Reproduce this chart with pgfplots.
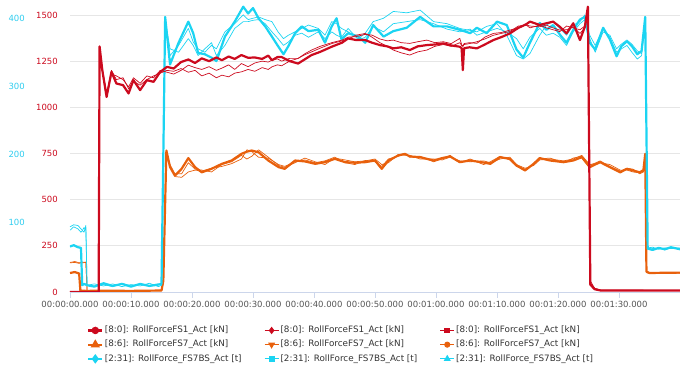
\documentclass[border=0pt]{standalone}
\usepackage{pgfplots}
\pgfplotsset{compat=1.18}
\usepackage{pgfplotstable}
\usepackage{fontspec}
\setmainfont{DejaVu Sans}
\definecolor{cRed}{HTML}{CC0A1E}
\definecolor{cOrg}{HTML}{E8600C}
\definecolor{cCyan}{HTML}{1BD4F2}
\definecolor{cCyanL}{HTML}{30CDEF}
\definecolor{cGrid}{HTML}{E6E6E6}
\definecolor{cAxis}{HTML}{CCD6EB}
\definecolor{cTxt}{HTML}{555555}

\pgfplotstableread{
t r1 r2 r3
0 0 0 0
4.7 0 0 0
4.85 1330 1320 1310
5.3 1200 1210 1200
6.0 1056 1080 1070
6.8 1192 1180 1200
7.6 1129 1170 1150
8.7 1120 1150 1160
9.6 1075 1110 1100
10.4 1147 1160 1140
11.5 1093 1130 1120
12.6 1147 1170 1150
13.7 1138 1160 1170
14.8 1192 1200 1185
15.9 1219 1190 1200
17.0 1210 1180 1195
18.2 1245 1200 1210
19.4 1259 1228 1190
20.5 1240 1215 1200
21.6 1265 1205 1170
22.8 1250 1220 1185
24.0 1270 1200 1160
24.9 1255 1212 1174
26.0 1275 1230 1165
27.0 1262 1205 1185
28.1 1283 1237 1192
29.2 1268 1220 1205
30.3 1270 1240 1195
31.5 1262 1250 1215
32.5 1280 1245 1205
33.1 1255 1255 1219
34.0 1272 1262 1230
34.7 1272 1250 1225
36.0 1250 1265 1250
37.4 1237 1265 1265
38.5 1260 1290 1285
39.6 1283 1310 1300
41.0 1300 1330 1320
42.9 1328 1350 1345
44.6 1350 1364 1360
45.6 1373 1380 1370
46.8 1365 1382 1390
48.4 1364 1395 1400
49.5 1350 1391 1380
50.8 1337 1370 1350
52.0 1330 1360 1330
53.0 1319 1364 1310
54.3 1325 1350 1295
55.7 1310 1346 1283
57.0 1330 1355 1300
58.5 1337 1364 1310
59.8 1340 1350 1330
61.2 1346 1355 1340
62.5 1335 1345 1330
63.9 1328 1373 1350
64.2 1320 1340 1335
64.4 1201 1330 1330
64.6 1320 1345 1340
65.5 1325 1350 1345
66.7 1319 1346 1355
68.0 1340 1380 1370
69.4 1364 1400 1390
70.7 1380 1405 1400
72.1 1400 1418 1410
73.5 1430 1430 1440
74.8 1450 1446 1445
75.4 1464 1440 1430
77.0 1446 1436 1445
78.1 1455 1445 1430
79.2 1464 1430 1420
80.3 1436 1418 1410
81.4 1400 1420 1440
82.5 1455 1435 1430
83.6 1364 1400 1420
84.4 1436 1430 1440
84.9 1545 1530 1520
85.3 40 60 50
86.0 15 20 20
87.0 8 10 10
100 8 8 8
}\redtable

\pgfplotstableread{
t o1 o2 o3
0 103 160 158
0.8 108 165 160
1.5 100 158 155
1.7 8 160 157
2.6 6 162 160
2.8 6 8 8
5 7 6 8
10 6 8 7
15.0 8 9 7
15.3 60 60 60
15.8 766 750 740
16.4 676 690 680
17.2 630 640 625
18.3 667 640 621
19.4 725 700 650
20.5 676 665 660
21.6 648 660 655
23.2 667 650 670
24.9 694 690 680
26.5 712 705 695
28.1 748 740 720
29.0 760 720 770
29.8 766 735 760
30.9 757 770 730
32.5 712 730 725
34.2 676 685 690
35.2 667 675 680
36.9 712 700 705
38.5 707 725 715
40.2 694 705 700
41.8 703 690 710
43.4 721 725 730
45.1 703 715 700
46.7 700 705 690
48.4 703 710 712
50.0 712 720 705
51.1 667 690 680
52.2 712 700 720
53.8 739 745 735
54.9 748 740 750
55.7 734 740 730
57.4 730 720 735
59.6 712 720 705
61.0 725 715 720
62.3 734 730 740
63.9 703 710 700
65.6 712 705 720
67.8 701 710 690
68.9 694 700 705
70.5 730 720 735
72.1 721 730 715
73.2 685 690 680
74.6 658 670 665
76.0 694 685 690
77.0 725 715 720
78.7 712 720 725
80.9 703 710 700
82.5 712 720 725
83.9 730 740 735
85.2 676 690 685
86.9 703 700 710
88.5 676 690 680
90.2 648 660 655
91.3 667 660 670
92.3 658 650 665
93.4 648 645 640
94.0 660 655 650
94.3 748 720 700
94.5 110 105 108
95 103 100 105
100 105 103 102
}\orgtable

\pgfplotstableread{
t c1 c2 c3
0 64 93 88
0.6 66 96 93
1.3 63 95 90
1.8 62 90 85
2.0 7 88 87
2.3 9 85 92
2.6 8 95 88
2.8 7 7 7
4 5 9 6
5.5 10 6 8
7 6 9 5
8.5 9 5 10
10 5 8 6
11.5 9 6 9
13 6 10 7
14.5 8 5 9
15.0 9 7 7
15.3 200 190 195
15.6 402 395 398
16.4 332 345 355
17.8 364 360 350
19.4 395 385 370
20.2 378 365 360
21.0 349 355 345
22.1 347 350 355
23.2 342 360 364
24.0 337 355 345
25.4 373 380 360
27.0 395 392 385
28.4 417 405 395
29.2 407 398 395
30.0 415 400 397
30.9 400 402 398
32.0 388 398 392
33.1 373 395 380
34.1 359 380 370
35.0 347 370 360
35.8 359 375 365
36.9 378 380 375
38.0 388 385 378
39.1 381 390 372
40.7 383 385 380
41.8 364 375 370
42.9 388 395 380
43.7 400 392 375
44.5 369 385 372
45.6 378 380 385
47.3 373 370 368
48.4 364 378 372
49.7 390 395 388
51.4 373 400 380
53.0 381 410 392
55.2 386 408 395
57.4 402 412 398
59.6 388 395 392
61.8 388 392 384
63.9 383 385 380
65.6 378 382 384
66.7 386 380 375
68.3 378 388 380
70.0 395 392 385
71.6 390 375 380
73.2 354 345 370
74.3 342 340 355
75.4 364 348 372
77.0 393 375 385
78.1 383 390 375
79.2 390 395 378
80.3 376 385 372
81.4 364 375 360
82.5 383 390 380
83.6 398 395 392
84.4 402 405 398
85.2 364 375 370
86.1 354 360 350
87.4 386 385 380
88.5 369 372 375
89.6 344 350 355
90.4 359 355 362
91.3 366 360 368
92.1 359 350 362
93.0 347 340 352
93.7 352 345 348
94.3 402 398 395
94.7 61 62 60
95.5 59 63 61
96.5 62 60 62
97.5 60 62 59
98.5 63 61 62
100 60 62 61
}\cyantable

\pgfplotsset{
  base/.style={
    scale only axis, width=610pt, height=287pt,
    at={(0pt,0pt)}, anchor=south west,
    xmin=0, xmax=100, clip=true,
    /pgf/number format/assume math mode=true,
    /pgf/number format/1000 sep={},
    ticklabel style={font=\fontsize{8.5}{10}\selectfont},
  },
  thick line/.style={line join=round, line width=2.2pt},
  thin line/.style={line join=round, line width=0.7pt},
}

\begin{document}
\begin{tikzpicture}
\useasboundingbox (-70pt,-74pt) rectangle (610pt,292pt);
% Axis A: grid, x axis, red scale labels, orange series
\begin{axis}[base,
  ymin=0, ymax=1554,
  axis x line*=bottom, axis y line*=left,
  x axis line style={draw=cAxis, line width=0.8pt},
  y axis line style={draw=none},
  ymajorgrids, grid style={draw=cGrid, line width=0.8pt},
  ytick={0,250,500,750,1000,1250,1500},
  yticklabel style={text=cRed, anchor=east, inner sep=0pt, xshift=-6pt},
  ytick style={draw=none},
  xtick={0,10,20,30,40,50,60,70,80,90},
  xticklabels={00:00:00.000,00:00:10.000,00:00:20.000,00:00:30.000,00:00:40.000,00:00:50.000,00:01:00.000,00:01:10.000,00:01:20.000,00:01:30.000},
  xtick style={draw=cAxis, line width=0.8pt},
  tick align=outside, major tick length=6pt,
  xticklabel style={text=cTxt, inner sep=0pt, anchor=north, yshift=-3pt},
]
\addplot[cOrg, thin line, no marks] table[x=t, y=o2] {\orgtable};
\addplot[cOrg, thin line, no marks] table[x=t, y=o3] {\orgtable};
\addplot[cOrg, thick line, no marks] table[x=t, y=o1] {\orgtable};
\end{axis}
% Axis B: cyan scale
\begin{axis}[base,
  ymin=-2.9, ymax=419.5,
  axis line style={draw=none},
  xtick=\empty,
  ytick={100,200,300,400},
  tick style={draw=none},
  yticklabel style={text=cCyanL, anchor=east, inner sep=0pt, xshift=-45pt},
]
\addplot[cCyan, thin line, no marks] table[x=t, y=c2] {\cyantable};
\addplot[cCyan, thin line, no marks] table[x=t, y=c3] {\cyantable};
\addplot[cCyan, thick line, no marks] table[x=t, y=c1] {\cyantable};
\end{axis}
% Axis C: red series and legend
\begin{axis}[base,
  ymin=0, ymax=1554,
  hide axis,
  legend columns=3,
  legend cell align=left,
  legend image code/.code={\draw[mark repeat=2,mark phase=2,#1] plot coordinates {(0pt,0pt) (7pt,0pt) (14pt,0pt)};},
  legend style={draw=none, fill=none, inner sep=0pt,
    at={(axis description cs:0.0279,-0.115)}, anchor=north west,
    font=\fontsize{8.8}{10}\selectfont, text=black!80,
    nodes={inner sep=1.5pt, text height=6pt, text depth=1.5pt},
    row sep=3.7pt,
    /tikz/every even column/.append style={column sep=21pt}},
]
\addplot[cRed, thin line, no marks, forget plot] table[x=t, y=r2] {\redtable};
\addplot[cRed, thin line, no marks, forget plot] table[x=t, y=r3] {\redtable};
\addplot[cRed, thick line, no marks, forget plot] table[x=t, y=r1] {\redtable};
\addlegendimage{cRed, line width=2.2pt, mark=*, mark size=2.6pt}
\addlegendentry{\relax[8:0]: RollForceFS1\_Act [kN]}
\addlegendimage{cRed, line width=0.9pt, mark=diamond*, mark size=3pt}
\addlegendentry{\relax[8:0]: RollForceFS1\_Act [kN]}
\addlegendimage{cRed, line width=0.9pt, mark=square*, mark size=2.4pt}
\addlegendentry{\relax[8:0]: RollForceFS1\_Act [kN]}
\addlegendimage{cOrg, line width=2.2pt, mark=triangle*, mark size=3.2pt}
\addlegendentry{\relax[8:6]: RollForceFS7\_Act [kN]}
\addlegendimage{cOrg, line width=0.9pt, mark=triangle*, mark size=3.2pt, mark options={rotate=180}}
\addlegendentry{\relax[8:6]: RollForceFS7\_Act [kN]}
\addlegendimage{cOrg, line width=0.9pt, mark=*, mark size=2.6pt}
\addlegendentry{\relax[8:6]: RollForceFS7\_Act [kN]}
\addlegendimage{cCyan, line width=2.2pt, mark=diamond*, mark size=3pt}
\addlegendentry{\relax[2:31]: RollForce\_FS7BS\_Act [t]}
\addlegendimage{cCyan, line width=0.9pt, mark=square*, mark size=2.4pt}
\addlegendentry{\relax[2:31]: RollForce\_FS7BS\_Act [t]}
\addlegendimage{cCyan, line width=0.9pt, mark=triangle*, mark size=3.2pt}
\addlegendentry{\relax[2:31]: RollForce\_FS7BS\_Act [t]}
\end{axis}
\end{tikzpicture}
\end{document}
